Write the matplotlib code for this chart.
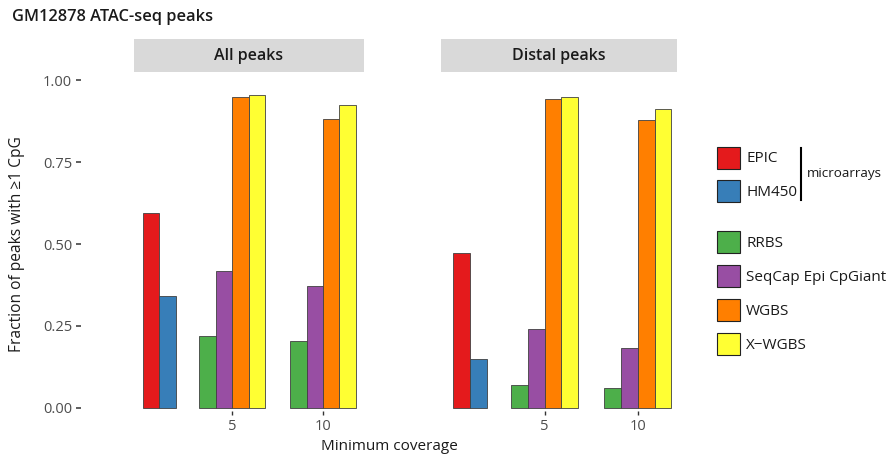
import matplotlib
matplotlib.use('Agg')
import matplotlib.pyplot as plt
from matplotlib.patches import Patch
from matplotlib.lines import Line2D

plt.rcParams['font.family'] = ['Open Sans', 'DejaVu Sans']

W, H = 887, 455

# data
panels = ['All peaks', 'Distal peaks']
array_names = ['EPIC', 'HM450']
seq_names = ['RRBS', 'SeqCap Epi CpGiant', 'WGBS', 'X\u2212WGBS']
array_colors = ['#E41A1C', '#377EB8']
seq_colors = ['#4DAF4A', '#984EA3', '#FF7F00', '#FFFF33']
array_cov = 1
seq_cov = [5, 10]
cov_labels = ['5', '10']

all_arrays = [0.594, 0.342]
all_rrbs = [0.219, 0.204]
all_seqcap = [0.418, 0.373]
all_wgbs = [0.947, 0.882]
all_xwgbs = [0.955, 0.923]

distal_arrays = [0.474, 0.148]
distal_rrbs = [0.069, 0.060]
distal_seqcap = [0.241, 0.184]
distal_wgbs = [0.941, 0.877]
distal_xwgbs = [0.947, 0.911]

panel_arrays = [all_arrays, distal_arrays]
panel_seq = [[all_rrbs, all_seqcap, all_wgbs, all_xwgbs],
             [distal_rrbs, distal_seqcap, distal_wgbs, distal_xwgbs]]


def px(x0, y0, x1, y1):
    # pixel box -> figure fraction rect
    return [x0 / W, 1 - y1 / H, (x1 - x0) / W, (y1 - y0) / H]


fig = plt.figure(figsize=(W / 100, H / 100), dpi=100)

panel_x = [(134, 364), (441, 677)]
xlims = [(-0.4, 12.25), (-0.56, 12.1)]
bw = 0.9
edge = '#404040'
txt = '#1a1a1a'
tick_col = '#4d4d4d'

for i, name in enumerate(panels):
    x0, x1 = panel_x[i]
    ax = fig.add_axes(px(x0, 72, x1, 411))
    # microarrays, dodged around x = 1
    for j, v in enumerate(panel_arrays[i]):
        ax.bar(array_cov + (j - 0.5) * bw, v, width=bw, color=array_colors[j],
               edgecolor=edge, linewidth=0.6)
    for j, vals in enumerate(panel_seq[i]):
        xs = [c + (j - 1.5) * bw for c in seq_cov]
        ax.bar(xs, vals, width=bw, color=seq_colors[j],
               edgecolor=edge, linewidth=0.6)
    ax.set_xlim(*xlims[i])
    ax.set_ylim(-0.00915, 1.0244)
    for s in ax.spines.values():
        s.set_visible(False)
    ax.set_xticks(seq_cov)
    ax.set_xticklabels(cov_labels)
    ax.tick_params(axis='x', length=3, width=1, color='#333333',
                   labelsize=10.5, labelcolor=tick_col, pad=2.5)
    if i == 0:
        ax.spines['left'].set_position(('outward', 38))
        ax.set_yticks([0, 0.25, 0.5, 0.75, 1.0])
        ax.set_yticklabels(['0.00', '0.25', '0.50', '0.75', '1.00'])
        ax.tick_params(axis='y', length=3.5, width=1.1, color='#333333',
                       labelsize=10.5, labelcolor=tick_col, pad=3)
    else:
        ax.set_yticks([])

    # facet strip
    sax = fig.add_axes(px(x0, 39, x1, 72))
    sax.set_facecolor('#D9D9D9')
    sax.set_xticks([])
    sax.set_yticks([])
    for s in sax.spines.values():
        s.set_visible(False)
    sax.text(0.5, 0.5, name, ha='center', va='center', fontsize=11.5,
             fontweight='semibold', color=txt, transform=sax.transAxes)

fig.text(12 / W, 1 - 17 / H, 'GM12878 ATAC-seq peaks', ha='left', va='center',
         fontsize=11.8, fontweight='semibold', color=txt)
fig.text(389 / W, 1 - 447 / H, 'Minimum coverage', ha='center', va='center',
         fontsize=11, color=txt)
fig.text(17 / W, 1 - 244 / H, 'Fraction of peaks with \u22651 CpG', ha='center',
         va='center', rotation=90, fontsize=11.2, color=txt)

# legends
fs = 11
hh = 1.84
hl = 1.5
h1 = [Patch(facecolor=c, edgecolor='#222222', linewidth=0.8) for c in array_colors]
h2 = [Patch(facecolor=c, edgecolor='#222222', linewidth=0.8) for c in seq_colors]
leg1 = fig.legend(h1, array_names, loc='upper left',
                  bbox_to_anchor=(717 / W, 1 - 146.5 / H), frameon=False,
                  fontsize=fs, handlelength=hl, handleheight=hh,
                  labelspacing=0.74, handletextpad=0.4, borderpad=0,
                  borderaxespad=0)
for t in leg1.get_texts():
    t.set_color(txt)
leg2 = fig.legend(h2, seq_names, loc='upper left',
                  bbox_to_anchor=(717 / W, 1 - 231 / H), frameon=False,
                  fontsize=fs, handlelength=hl, handleheight=hh,
                  labelspacing=0.78, handletextpad=0.4, borderpad=0,
                  borderaxespad=0)
for t in leg2.get_texts():
    t.set_color(txt)

fig.add_artist(Line2D([801 / W, 801 / W], [1 - 148 / H, 1 - 200 / H],
                      color='black', linewidth=1.5, transform=fig.transFigure))
fig.text(807 / W, 1 - 173 / H, 'microarrays', ha='left', va='center',
         fontsize=9.7, color=txt)

fig.savefig('out.png', dpi=100)
